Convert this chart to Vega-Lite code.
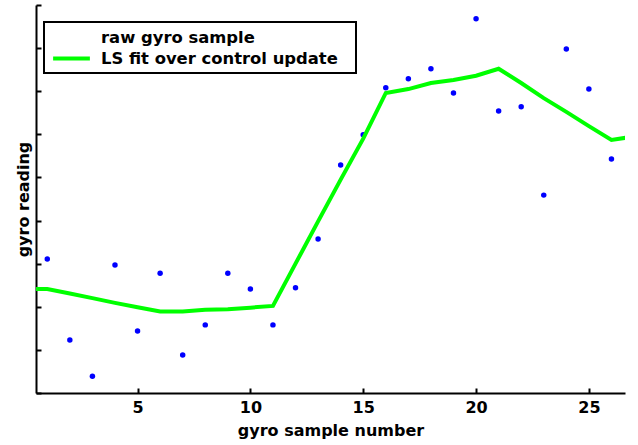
{
  "$schema": "https://vega.github.io/schema/vega-lite/v6.json",
  "width": 589,
  "height": 388,
  "autosize": {"type": "none"},
  "padding": {"left": 36, "top": 5, "right": 13, "bottom": 52},
  "background": "white",
  "config": {
    "view": {"stroke": null},
    "font": "DejaVu Sans",
    "axis": {
      "grid": false,
      "domainColor": "black",
      "domainWidth": 2,
      "tickColor": "black",
      "tickWidth": 2,
      "tickSize": -5,
      "labelFont": "DejaVu Sans",
      "labelFontWeight": "bold",
      "labelFontSize": 16,
      "labelColor": "black",
      "titleFont": "DejaVu Sans",
      "titleFontWeight": "bold",
      "titleFontSize": 16,
      "titleColor": "black"
    }
  },
  "data": {
    "values": [
      {"x": 1, "y": 3.11, "series": "raw gyro sample"},
      {"x": 2, "y": 1.23, "series": "raw gyro sample"},
      {"x": 3, "y": 0.39, "series": "raw gyro sample"},
      {"x": 4, "y": 2.97, "series": "raw gyro sample"},
      {"x": 5, "y": 1.44, "series": "raw gyro sample"},
      {"x": 6, "y": 2.78, "series": "raw gyro sample"},
      {"x": 7, "y": 0.88, "series": "raw gyro sample"},
      {"x": 8, "y": 1.58, "series": "raw gyro sample"},
      {"x": 9, "y": 2.78, "series": "raw gyro sample"},
      {"x": 10, "y": 2.41, "series": "raw gyro sample"},
      {"x": 11, "y": 1.58, "series": "raw gyro sample"},
      {"x": 12, "y": 2.44, "series": "raw gyro sample"},
      {"x": 13, "y": 3.57, "series": "raw gyro sample"},
      {"x": 14, "y": 5.29, "series": "raw gyro sample"},
      {"x": 15, "y": 5.99, "series": "raw gyro sample"},
      {"x": 16, "y": 7.08, "series": "raw gyro sample"},
      {"x": 17, "y": 7.29, "series": "raw gyro sample"},
      {"x": 18, "y": 7.52, "series": "raw gyro sample"},
      {"x": 19, "y": 6.96, "series": "raw gyro sample"},
      {"x": 20, "y": 8.68, "series": "raw gyro sample"},
      {"x": 21, "y": 6.54, "series": "raw gyro sample"},
      {"x": 22, "y": 6.64, "series": "raw gyro sample"},
      {"x": 23, "y": 4.59, "series": "raw gyro sample"},
      {"x": 24, "y": 7.98, "series": "raw gyro sample"},
      {"x": 25, "y": 7.05, "series": "raw gyro sample"},
      {"x": 26, "y": 5.43, "series": "raw gyro sample"},
      {"x": 0, "y": 2.41, "series": "LS fit over control update"},
      {"x": 1, "y": 2.41, "series": "LS fit over control update"},
      {"x": 2, "y": 2.31, "series": "LS fit over control update"},
      {"x": 3, "y": 2.2, "series": "LS fit over control update"},
      {"x": 4, "y": 2.09, "series": "LS fit over control update"},
      {"x": 5, "y": 1.99, "series": "LS fit over control update"},
      {"x": 6, "y": 1.89, "series": "LS fit over control update"},
      {"x": 7, "y": 1.89, "series": "LS fit over control update"},
      {"x": 8, "y": 1.93, "series": "LS fit over control update"},
      {"x": 9, "y": 1.94, "series": "LS fit over control update"},
      {"x": 10, "y": 1.98, "series": "LS fit over control update"},
      {"x": 11, "y": 2.02, "series": "LS fit over control update"},
      {"x": 12, "y": 3.0, "series": "LS fit over control update"},
      {"x": 13, "y": 3.98, "series": "LS fit over control update"},
      {"x": 14, "y": 4.95, "series": "LS fit over control update"},
      {"x": 15, "y": 5.9, "series": "LS fit over control update"},
      {"x": 16, "y": 6.96, "series": "LS fit over control update"},
      {"x": 17, "y": 7.05, "series": "LS fit over control update"},
      {"x": 18, "y": 7.19, "series": "LS fit over control update"},
      {"x": 19, "y": 7.26, "series": "LS fit over control update"},
      {"x": 20, "y": 7.36, "series": "LS fit over control update"},
      {"x": 21, "y": 7.52, "series": "LS fit over control update"},
      {"x": 22, "y": 7.19, "series": "LS fit over control update"},
      {"x": 23, "y": 6.84, "series": "LS fit over control update"},
      {"x": 24, "y": 6.52, "series": "LS fit over control update"},
      {"x": 25, "y": 6.19, "series": "LS fit over control update"},
      {"x": 26, "y": 5.87, "series": "LS fit over control update"},
      {"x": 27, "y": 5.95, "series": "LS fit over control update"}
    ]
  },
  "encoding": {
    "x": {
      "field": "x",
      "type": "quantitative",
      "scale": {"domain": [0.5, 26.6], "nice": false, "zero": false},
      "axis": {
        "values": [5, 10, 15, 20, 25],
        "labelPadding": 11,
        "labelFlush": false,
        "title": "gyro sample number",
        "titlePadding": 7
      }
    },
    "y": {
      "field": "y",
      "type": "quantitative",
      "scale": {"domain": [0, 9], "nice": false, "zero": false},
      "axis": {
        "values": [0, 1, 2, 3, 4, 5, 6, 7, 8, 9],
        "labels": false,
        "title": "gyro reading",
        "titlePadding": 4
      }
    },
    "color": {
      "field": "series",
      "type": "nominal",
      "scale": {
        "domain": ["raw gyro sample", "LS fit over control update"],
        "range": ["#0000ff", "#00ff00"]
      },
      "legend": {
        "title": null,
        "orient": "none",
        "legendX": 8,
        "legendY": 17,
        "padding": 6,
        "strokeColor": "black",
        "fillColor": "white",
        "symbolType": "M-2.6,0H2.6",
        "symbolSize": 200,
        "symbolOffset": 12,
        "symbolStrokeWidth": 4,
        "labelOffset": 20,
        "labelLimit": 0,
        "labelFont": "DejaVu Sans",
        "labelFontWeight": "bold",
        "labelFontSize": 16.4,
        "labelColor": "black",
        "labelExpr": "datum.label + '\u00a0\u00a0\u200b'",
        "rowPadding": 3,
        "encode": {
          "legend": {"update": {"strokeWidth": {"value": 2}}},
          "symbols": {
            "update": {
              "stroke": {"value": "#00ff00"},
              "fill": {"value": "transparent"},
              "strokeWidth": {"value": 4},
              "opacity": {"signal": "datum.value === 'raw gyro sample' ? 0 : 1"}
            }
          }
        }
      }
    }
  },
  "layer": [
    {
      "transform": [{"filter": "datum.series === 'raw gyro sample'"}],
      "mark": {"type": "point", "filled": true, "size": 30, "opacity": 1}
    },
    {
      "transform": [{"filter": "datum.series === 'LS fit over control update'"}],
      "mark": {"type": "line", "strokeWidth": 4, "clip": true}
    }
  ]
}
